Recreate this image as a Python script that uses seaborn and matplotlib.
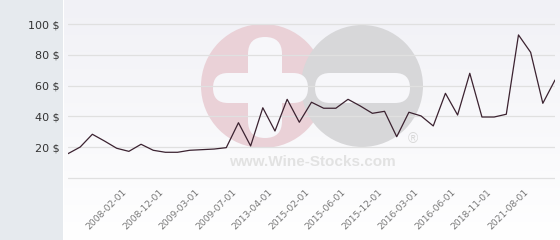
import numpy as np
import pandas as pd
import matplotlib
matplotlib.use("Agg")
import matplotlib.pyplot as plt
import seaborn as sns
from matplotlib.patches import Circle, FancyBboxPatch, Rectangle
from matplotlib.transforms import IdentityTransform, ScaledTranslation

# ---- data ----
prices = [15.8, 20.1, 28.4, 24.0, 19.3, 17.3, 21.9, 18.0, 16.7, 16.7,
          18.0, 18.4, 18.8, 19.7, 35.9, 20.8, 45.6, 30.5, 51.1, 36.2,
          49.2, 45.3, 45.3, 51.1, 46.8, 42.0, 43.3, 26.8, 42.7, 40.3,
          33.8, 55.0, 40.9, 68.0, 39.6, 39.6, 41.4, 92.9, 81.6, 48.5, 63.6]
tick_labels = ["2008-02-01", "2008-12-01", "2009-03-01", "2009-07-01",
               "2013-04-01", "2015-02-01", "2015-06-01", "2015-12-01",
               "2016-03-01", "2016-06-01", "2018-11-01", "2021-08-01"]
y_ticks = [0, 20, 40, 60, 80, 100]
y_labels = ["", "20 $", "40 $", "60 $", "80 $", "100 $"]

df = pd.DataFrame({"idx": np.arange(len(prices)), "price": prices})

sns.set_theme(style="white")
plt.rcParams["font.family"] = ["DejaVu Sans"]

W, H = 560, 240
fig = plt.figure(figsize=(W / 100, H / 100), dpi=100)
fig.patch.set_facecolor("white")

# left panel
fig.patches.append(Rectangle((0, 0), 63 / W, 1, transform=fig.transFigure,
                             facecolor="#e6eaee", edgecolor="none", zorder=-5))
# gradient background on the right
bg = fig.add_axes([64 / W, 0, 1 - 64 / W, 1], zorder=-1)
grad = np.linspace(0, 1, 256).reshape(-1, 1)
top = np.array([241, 241, 246]) / 255
bot = np.array([255, 255, 255]) / 255
img = top[None, None, :] * (1 - grad[..., None]) + bot[None, None, :] * grad[..., None]
bg.imshow(img, aspect="auto", extent=[0, 1, 0, 1])
bg.set_axis_off()

# y range padded so that 0 sits at px 178 and 100 at px 24
pad_u = 1.0
ppu = (178 - 24) / 100.0
ax = fig.add_axes([68 / W, 1 - (178 + pad_u * ppu) / H, (555 - 68) / W,
                   (178 - 24 + 2 * pad_u * ppu) / H], zorder=1)
ax.set_facecolor("none")

# watermark (pixel coordinates, origin bottom-left)
tr = IdentityTransform()
def py(y):
    return H - y
pink = "#ead1d7"
grey = "#d7d7d9"
ax.add_patch(Circle((263, py(86)), 62, transform=tr, facecolor=pink, edgecolor="none", zorder=0.2))
ax.add_patch(Circle((362, py(86)), 61, transform=tr, facecolor=grey, edgecolor="none", zorder=0.25))
bar_kw = dict(transform=tr, facecolor="#f7f7fa", edgecolor="none", zorder=0.3, mutation_aspect=1)
ax.add_patch(FancyBboxPatch((213 + 15, py(103) + 15), 95 - 30, 0.01,
                            boxstyle="round,pad=15", **bar_kw))
ax.add_patch(FancyBboxPatch((248 + 17, py(138) + 17), 0.01, 101 - 34,
                            boxstyle="round,pad=17", **bar_kw))
ax.add_patch(FancyBboxPatch((315 + 15, py(103) + 15), 95 - 30, 0.01,
                            boxstyle="round,pad=15", **bar_kw))
ax.text(312, py(162), "www.Wine-Stocks.com", transform=tr, ha="center", va="center",
        fontsize=11, fontweight="bold", family=["Liberation Sans", "DejaVu Sans"],
        color="#e2e2e2", zorder=0.4)
ax.text(413, py(139), "\u00ae", transform=tr, ha="center", va="center",
        fontsize=10, family=["Liberation Sans", "DejaVu Sans"],
        color="#d8d8d8", zorder=0.4)

sns.lineplot(data=df, x="idx", y="price", ax=ax, color="#3b2230", linewidth=0.9, zorder=3)

ax.set_xlim(0, len(prices) - 1)
ax.set_ylim(-pad_u, 100 + pad_u)
ax.set_yticks(y_ticks)
ax.set_yticklabels(y_labels, fontsize=8, color="#333333")
ax.set_xticks(np.arange(5, len(prices), 3)[:len(tick_labels)])
ax.set_xticklabels(tick_labels, rotation=45, ha="right", rotation_mode="anchor",
                   fontsize=6.6, color="#777777")
ax.tick_params(axis="y", length=0, pad=6)
ax.tick_params(axis="x", length=0, pad=6)
shift = ScaledTranslation(-7 / 100, 0, fig.dpi_scale_trans)
for lab in ax.get_xticklabels():
    lab.set_transform(lab.get_transform() + shift)
ax.grid(axis="y", color="#e0e0e0", linewidth=0.9)
ax.grid(axis="x", visible=False)
ax.set_axisbelow("line")
ax.set_xlabel("")
ax.set_ylabel("")
for s in ax.spines.values():
    s.set_visible(False)

fig.savefig("out.png", dpi=100)
